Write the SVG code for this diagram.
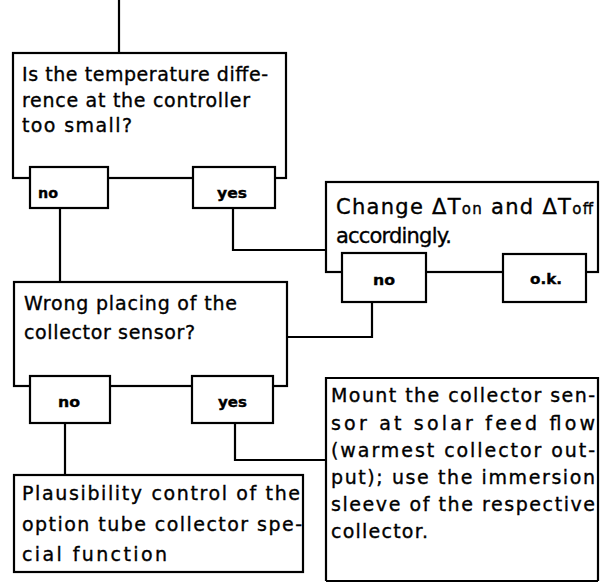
<svg xmlns="http://www.w3.org/2000/svg" width="605" height="582" viewBox="0 0 605 582">
<style>
.box{fill:#fff;stroke:#000;stroke-width:2.2}
.lbl{fill:#fff;stroke:#000;stroke-width:2.2}
.c{fill:none;stroke:#000;stroke-width:2.2}
text{font-family:"DejaVu Sans","Open Sans","Liberation Sans",sans-serif;fill:#000;stroke:#000;stroke-width:0.35}
.t{font-size:19px}
.b{font-size:21px}
.sub{font-size:15px}
.s{font-size:14px;font-weight:bold}
</style>
<rect width="605" height="582" fill="#fff" stroke="none"/>
<g id="connectors">
<path class="c" d="M119,0 V53"/>
<path class="c" d="M60,208 V282"/>
<path class="c" d="M233,208 V250 H326"/>
<path class="c" d="M372,302 V337 H287"/>
<path class="c" d="M65,423 V475"/>
<path class="c" d="M235,423 V460 H326"/>
</g>
<g id="q1">
<rect class="box" x="13" y="53" width="273" height="125"/>
<text class="t" x="22" y="81" textLength="246" lengthAdjust="spacing">Is the temperature diffe-</text>
<text class="t" x="22" y="107" textLength="228" lengthAdjust="spacing">rence at the controller</text>
<text class="t" x="22" y="132" textLength="110" lengthAdjust="spacing">too small?</text>
</g>
<g id="q1-no"><rect class="lbl" x="30" y="167" width="78" height="41"/><text class="s" x="38" y="198" textLength="20" lengthAdjust="spacingAndGlyphs">no</text></g>
<g id="q1-yes"><rect class="lbl" x="193" y="167" width="82" height="41"/><text class="s" x="217" y="198" textLength="30" lengthAdjust="spacingAndGlyphs">yes</text></g>
<g id="change">
<rect class="box" x="326" y="182" width="272" height="90"/>
<text class="b" x="336" y="214" textLength="257" lengthAdjust="spacing">Change ΔT<tspan class="sub">on</tspan> and ΔT<tspan class="sub">off</tspan></text>
<text class="b" x="336" y="243" textLength="116" lengthAdjust="spacing">accordingly.</text>
</g>
<g id="change-no"><rect class="lbl" x="342" y="253" width="84" height="49"/><text class="s" x="373" y="285" textLength="22" lengthAdjust="spacingAndGlyphs">no</text></g>
<g id="change-ok"><rect class="lbl" x="503" y="254" width="83" height="48"/><text class="s" x="530" y="284" textLength="32" lengthAdjust="spacingAndGlyphs">o.k.</text></g>
<g id="q2">
<rect class="box" x="14" y="282" width="273" height="104"/>
<text class="t" x="24" y="310" textLength="213" lengthAdjust="spacing">Wrong placing of the</text>
<text class="t" x="24" y="339" textLength="171" lengthAdjust="spacing">collector sensor?</text>
</g>
<g id="q2-no"><rect class="lbl" x="30" y="376" width="80" height="47"/><text class="s" x="58" y="407" textLength="22" lengthAdjust="spacingAndGlyphs">no</text></g>
<g id="q2-yes"><rect class="lbl" x="192" y="376" width="81" height="47"/><text class="s" x="218" y="407" textLength="29" lengthAdjust="spacingAndGlyphs">yes</text></g>
<g id="plaus">
<rect class="box" x="14" y="475" width="289" height="97"/>
<text class="t" x="22" y="500" textLength="278" lengthAdjust="spacing">Plausibility control of the</text>
<text class="t" x="22" y="531" textLength="280" lengthAdjust="spacing">option tube collector spe-</text>
<text class="t" x="22" y="561" textLength="145" lengthAdjust="spacing">cial function</text>
</g>
<g id="mount">
<path class="box" d="M326,581 V378 H598 V581"/>
<path class="c" d="M326,581 H598"/>
<text class="t" x="331" y="402" textLength="264" lengthAdjust="spacing">Mount the collector sen-</text>
<text class="t" x="331" y="430" textLength="264" lengthAdjust="spacing">sor at solar feed flow</text>
<text class="t" x="331" y="457" textLength="264" lengthAdjust="spacing">(warmest collector out-</text>
<text class="t" x="331" y="484" textLength="264" lengthAdjust="spacing">put); use the immersion</text>
<text class="t" x="331" y="511" textLength="264" lengthAdjust="spacing">sleeve of the respective</text>
<text class="t" x="331" y="538" textLength="97" lengthAdjust="spacing">collector.</text>
</g>
</svg>
